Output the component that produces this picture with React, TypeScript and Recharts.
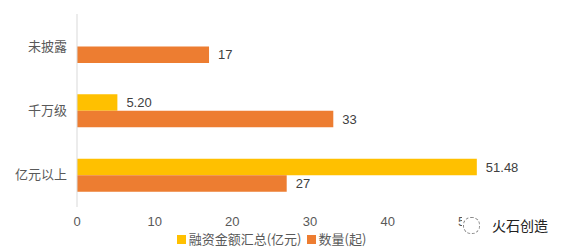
import React from 'react';
import { BarChart, Bar, XAxis, YAxis, LabelList, Legend } from 'recharts';

const categories = ['未披露', '千万级', '亿元以上'];
const amountValues: (number | null)[] = [null, 5.2, 51.48];
const countValues = [17, 33, 27];
const xTicks = [0, 10, 20, 30, 40, 50];
const seriesNames = ['融资金额汇总(亿元)', '数量(起)'];

const data = categories.map((c, i) => ({ name: c, amount: amountValues[i], count: countValues[i] }));

const FONT = '"Noto Sans CJK SC", "Microsoft YaHei", sans-serif';
const NUM_FONT = '"Liberation Sans", Arial, sans-serif';
const YELLOW = '#FFC000';
const ORANGE = '#ED7D31';

const LegendContent = () => (
  <div style={{ display: 'flex', justifyContent: 'center', alignItems: 'center', fontFamily: FONT, fontSize: 13, color: '#595959', lineHeight: '14px', height: 14 }}>
    <span style={{ display: 'inline-block', width: 9, height: 9, background: YELLOW, marginRight: 3 }} />
    <span style={{ marginRight: 5 }}>{seriesNames[0]}</span>
    <span style={{ display: 'inline-block', width: 9, height: 9, background: ORANGE, marginRight: 3 }} />
    <span>{seriesNames[1]}</span>
  </div>
);

export default function App() {
  return (
    <div style={{ position: 'absolute', left: 0, top: 0, width: 564, height: 250, background: '#fff' }}>
      <BarChart
        width={564}
        height={250}
        data={data}
        layout="vertical"
        margin={{ top: 14, right: 21, bottom: 4, left: 0 }}
        barGap={0}
        barSize={16.5}
      >
        <XAxis
          type="number"
          domain={[0, 60]}
          ticks={xTicks}
          axisLine={false}
          tickLine={false}
          height={25}
          tickMargin={4}
          tick={{ fill: '#595959', fontSize: 13, fontFamily: NUM_FONT }}
          interval={0}
        />
        <YAxis
          type="category"
          dataKey="name"
          width={77}
          axisLine={{ stroke: '#D9D9D9' }}
          tickLine={false}
          tickMargin={4}
          tick={{ fill: '#595959', fontSize: 13, fontFamily: FONT }}
        />
        <Legend verticalAlign="bottom" height={14} content={<LegendContent />} />
        <Bar dataKey="amount" name={seriesNames[0]} fill={YELLOW} isAnimationActive={false}>
          <LabelList
            dataKey="amount"
            position="right"
            offset={9}
            formatter={(v: any) => (v == null ? '' : Number(v).toFixed(2))}
            style={{ fill: '#404040', fontSize: 13, fontFamily: NUM_FONT }}
          />
        </Bar>
        <Bar dataKey="count" name={seriesNames[1]} fill={ORANGE} isAnimationActive={false}>
          <LabelList
            dataKey="count"
            position="right"
            offset={9}
            style={{ fill: '#404040', fontSize: 13, fontFamily: NUM_FONT }}
          />
        </Bar>
      </BarChart>
      <div style={{ position: 'absolute', left: 462, top: 214, width: 100, height: 22, background: '#fff', display: 'flex', alignItems: 'center', fontFamily: FONT, fontSize: 14, color: '#222' }}>
        <span style={{ display: 'inline-block', width: 15, height: 15, borderRadius: 8, border: '1px dashed #888', marginRight: 12, marginLeft: 1 }} />
        <span>火石创造</span>
      </div>
    </div>
  );
}
